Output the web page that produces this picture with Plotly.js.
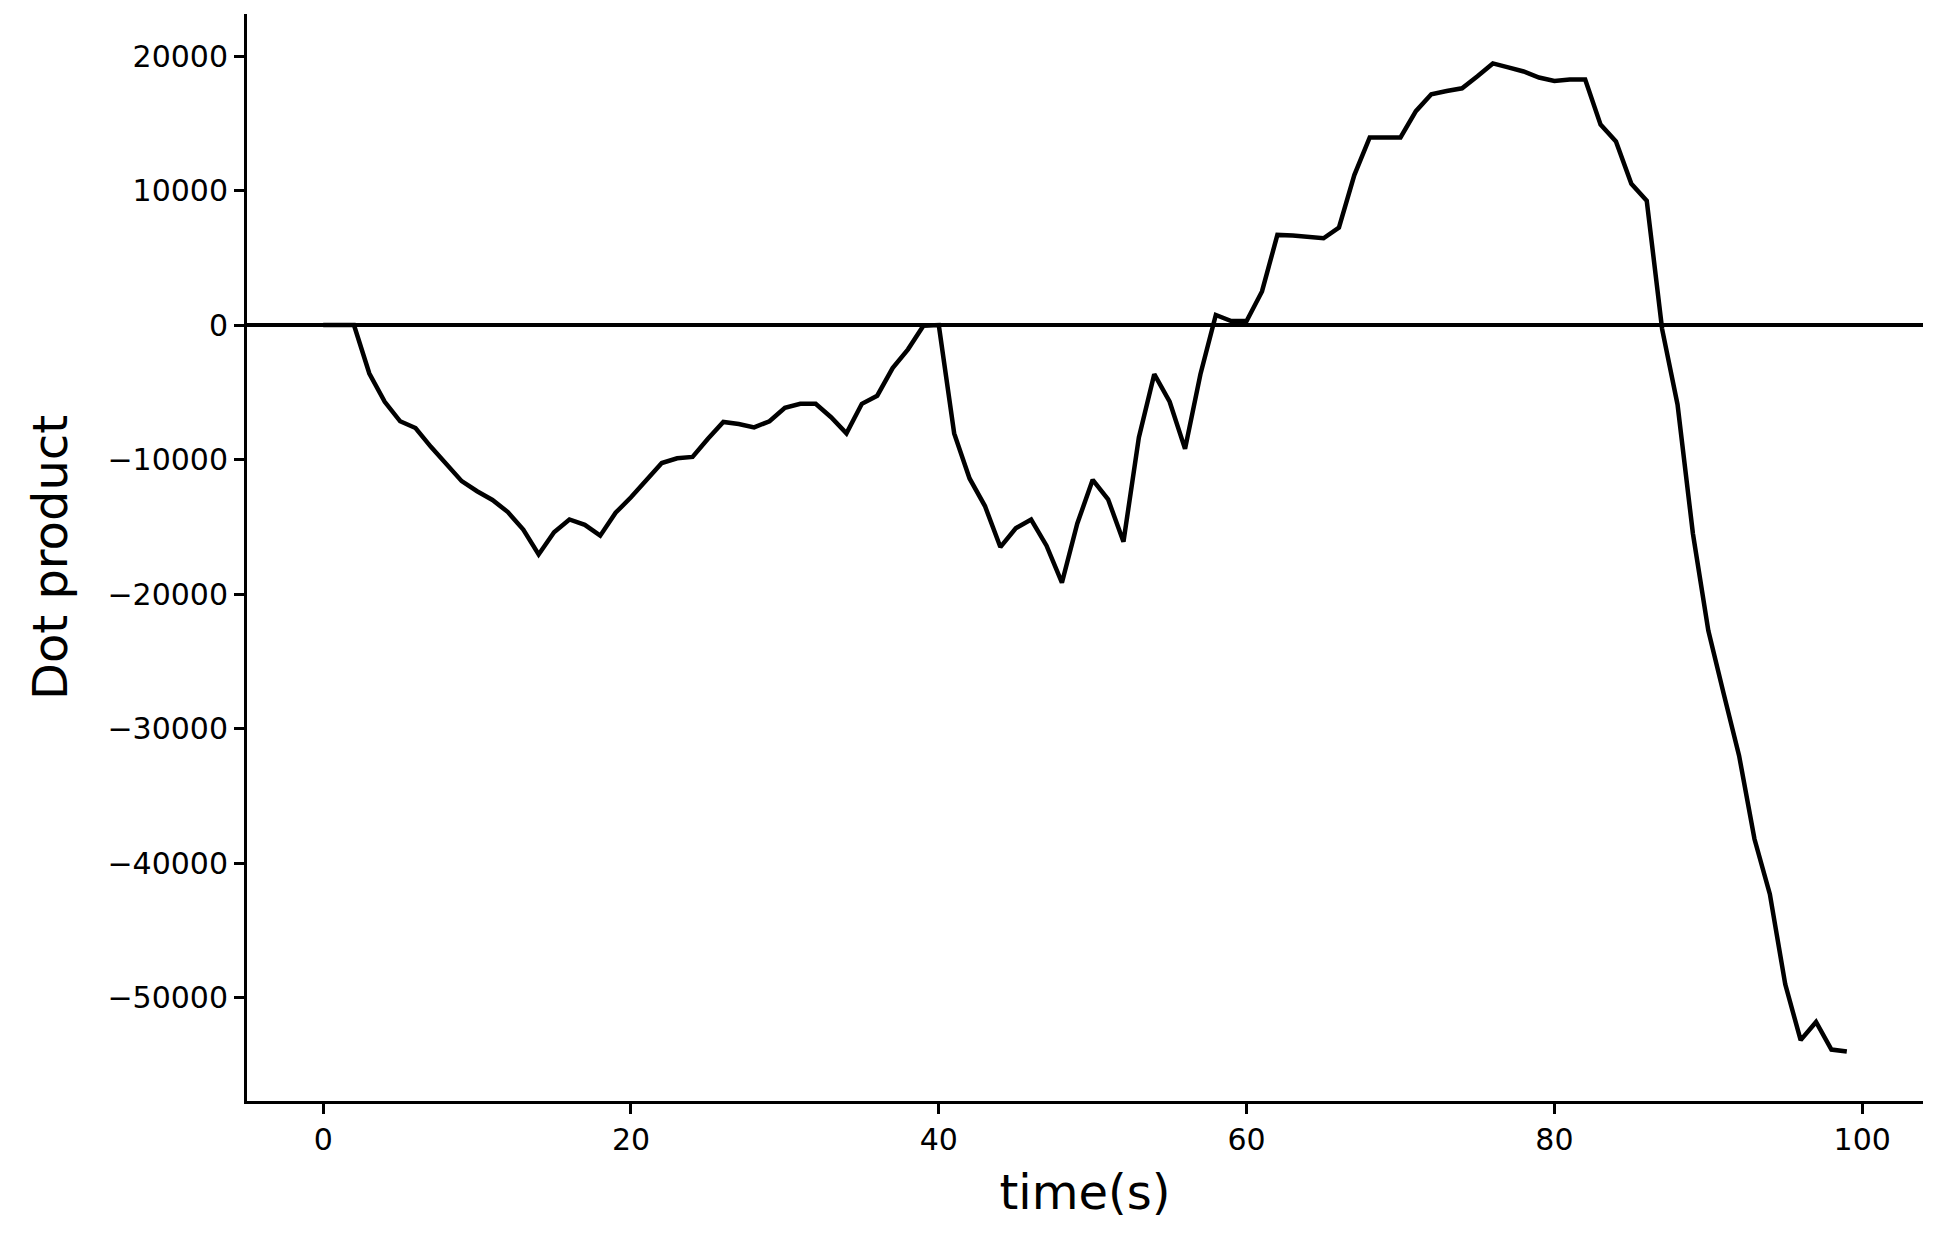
<!DOCTYPE html>
<html>
<head>
<meta charset="utf-8">
<script src="https://cdn.plot.ly/plotly-3.0.1.min.js"></script>
<style>
  html, body { margin: 0; padding: 0; background: #fff; }
  #chart { width: 1956px; height: 1241px; }
</style>
</head>
<body>
<div id="chart"></div>
<script>
// time in seconds
const timeS = [
  0, 1, 2, 3, 4, 5, 6, 7, 8, 9,
  10, 11, 12, 13, 14, 15, 16, 17, 18, 19,
  20, 21, 22, 23, 24, 25, 26, 27, 28, 29,
  30, 31, 32, 33, 34, 35, 36, 37, 38, 39,
  40, 41, 42, 43, 44, 45, 46, 47, 48, 49,
  50, 51, 52, 53, 54, 55, 56, 57, 58, 59,
  60, 61, 62, 63, 64, 65, 66, 67, 68, 69,
  70, 71, 72, 73, 74, 75, 76, 77, 78, 79,
  80, 81, 82, 83, 84, 85, 86, 87, 88, 89,
  90, 91, 92, 93, 94, 95, 96, 97, 98, 99
];

// dot product values
const dotProduct = [
  0, 0, 0, -3600, -5700, -7150, -7650, -9050, -10300, -11600,
  -12350, -13000, -13900, -15200, -17050, -15400, -14450, -14850, -15650, -13950,
  -12800, -11550, -10250, -9900, -9800, -8450, -7200, -7350, -7600, -7150,
  -6150, -5850, -5850, -6850, -8050, -5850, -5250, -3200, -1800, -50,
  0, -8050, -11400, -13450, -16500, -15100, -14450, -16400, -19150, -14750,
  -11500, -12950, -16100, -8350, -3650, -5700, -9200, -3650, 750, 300,
  300, 2500, 6700, 6650, 6550, 6450, 7250, 11150, 13950, 13950,
  13950, 15900, 17150, 17400, 17600, 18500, 19450, 19150, 18850, 18400,
  18150, 18250, 18250, 14900, 13650, 10500, 9250, -300, -5900, -15500,
  -22700, -27400, -32000, -38200, -42300, -49000, -53150, -51800, -53850, -54000
];

const xTickVals = [0, 20, 40, 60, 80, 100];
const xTickText = ["0", "20", "40", "60", "80", "100"];
const yTickVals = [-50000, -40000, -30000, -20000, -10000, 0, 10000, 20000];
const yTickText = ["\u221250000", "\u221240000", "\u221230000", "\u221220000", "\u221210000", "0", "10000", "20000"];

const xTitle = "time(s)";
const yTitle = "Dot product";

const FONT = "DejaVu Sans, sans-serif";

const trace = {
  x: timeS,
  y: dotProduct,
  type: "scatter",
  mode: "lines",
  line: { color: "#000000", width: 4.5 },
  hoverinfo: "skip",
  showlegend: false
};

const layout = {
  width: 1956,
  height: 1241,
  paper_bgcolor: "#ffffff",
  plot_bgcolor: "#ffffff",
  margin: { l: 247, r: 33, t: 14, b: 140, pad: 0 },
  font: { family: FONT, color: "#000000" },
  showlegend: false,
  xaxis: {
    range: [-4.95, 103.95],
    tickvals: xTickVals,
    ticktext: xTickText,
    ticks: "outside",
    ticklen: 10,
    tickwidth: 3,
    tickcolor: "#000000",
    tickfont: { family: FONT, size: 30, color: "#000000" },
    showline: true,
    linecolor: "#000000",
    linewidth: 3,
    mirror: false,
    showgrid: false,
    zeroline: false,
    automargin: false,
    title: { text: xTitle, font: { family: FONT, size: 48, color: "#000000" }, standoff: 20 }
  },
  yaxis: {
    range: [-57672, 23122],
    tickvals: yTickVals,
    ticktext: yTickText,
    ticks: "outside",
    ticklen: 10,
    tickwidth: 3,
    tickcolor: "#000000",
    tickfont: { family: FONT, size: 30, color: "#000000" },
    showline: true,
    linecolor: "#000000",
    linewidth: 3,
    mirror: false,
    showgrid: false,
    zeroline: true,
    zerolinecolor: "#000000",
    zerolinewidth: 4.5,
    automargin: false,
    title: { text: yTitle, font: { family: FONT, size: 48, color: "#000000" }, standoff: 25 }
  }
};

Plotly.newPlot("chart", [trace], layout, { displayModeBar: false, staticPlot: true });
</script>
</body>
</html>
